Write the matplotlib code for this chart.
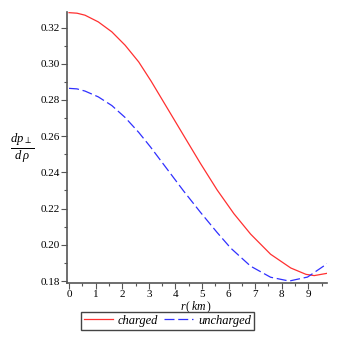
#! /usr/bin/env python3

'''
dp_perp / d rho against r for the charged and uncharged models.
'''

import matplotlib
matplotlib.use('Agg')
import matplotlib.pyplot as plt
from matplotlib.ticker import MultipleLocator


r_charged = [0.0, 0.3, 0.6, 1.1, 1.61, 2.11, 2.62, 3.09, 3.69, 4.31, 4.94,
             5.57, 6.2, 6.83, 7.58, 8.34, 8.91, 9.22, 9.72]
charged = [0.3282, 0.3279, 0.3268, 0.3231, 0.3176, 0.3102, 0.3010, 0.2903,
           0.2756, 0.2604, 0.2450, 0.2303, 0.2172, 0.2059, 0.1948, 0.1872,
           0.1837, 0.1830, 0.1843]

r_uncharged = [0.0, 0.3, 0.6, 1.1, 1.61, 2.11, 2.62, 3.06, 3.69, 4.31, 4.94,
               5.57, 6.08, 6.83, 7.58, 8.28, 8.97, 9.72]
uncharged = [0.2864, 0.2861, 0.2849, 0.2817, 0.2769, 0.2703, 0.2621, 0.2541,
             0.2418, 0.2297, 0.2180, 0.2068, 0.1982, 0.1882, 0.1821, 0.1800,
             0.1822, 0.1897]

series_labels = ['charged', 'uncharged']


def main():
    plt.rcParams['font.family'] = ['Liberation Serif', 'DejaVu Serif']
    plt.rcParams['mathtext.fontset'] = 'custom'
    plt.rcParams['mathtext.it'] = 'Liberation Serif:italic'
    plt.rcParams['mathtext.rm'] = 'Liberation Serif'
    fig = plt.figure(figsize=(3.42, 3.46), dpi=100)
    ax = fig.add_axes([0.196, 0.182, 0.760, 0.783])
    ax.plot(r_charged, charged, color='#ff3030', lw=0.9,
            label=series_labels[0])
    ax.plot(r_uncharged, uncharged, color='#3030ff', lw=0.9,
            dashes=(8, 3), label=series_labels[1])
    ax.set_xlim(-0.075, 9.70)
    ax.set_ylim(0.1789, 0.3285)
    for spine in 'right', 'top':
        ax.spines[spine].set_visible(False)
    for spine in 'left', 'bottom':
        ax.spines[spine].set_color('#555555')
        ax.spines[spine].set_linewidth(1.2)
    ax.xaxis.set_major_locator(MultipleLocator(1))
    ax.xaxis.set_minor_locator(MultipleLocator(0.5))
    ax.yaxis.set_major_locator(MultipleLocator(0.02))
    ax.yaxis.set_minor_locator(MultipleLocator(0.01))
    ax.yaxis.set_major_formatter(lambda v, p: f'{v:.2f}')
    ax.tick_params(which='both', color='#555555', labelsize=8, pad=1)
    ax.tick_params(which='major', length=4, width=0.8)
    ax.tick_params(which='minor', length=2.5, width=0.8)
    ax.set_xlabel(r'$r\,(\,km\,)$', fontsize=8.5, labelpad=0)
    ax.xaxis.set_label_coords(0.496, -0.061)
    fig.text(0.064, 0.572, r'$\frac{dp_{\,\perp}}{d\;\rho}$', fontsize=13,
             ha='center', va='center')
    fig.legend(loc='center', bbox_to_anchor=(0.490, 0.073), ncol=2,
               fancybox=False, edgecolor='#444444', framealpha=1,
               borderpad=0.25, handlelength=2.3, handletextpad=0.4,
               columnspacing=0.5, borderaxespad=0,
               prop={'style': 'italic', 'size': 9})
    fig.savefig('out.png', dpi=100)


if __name__ == '__main__':
    main()
